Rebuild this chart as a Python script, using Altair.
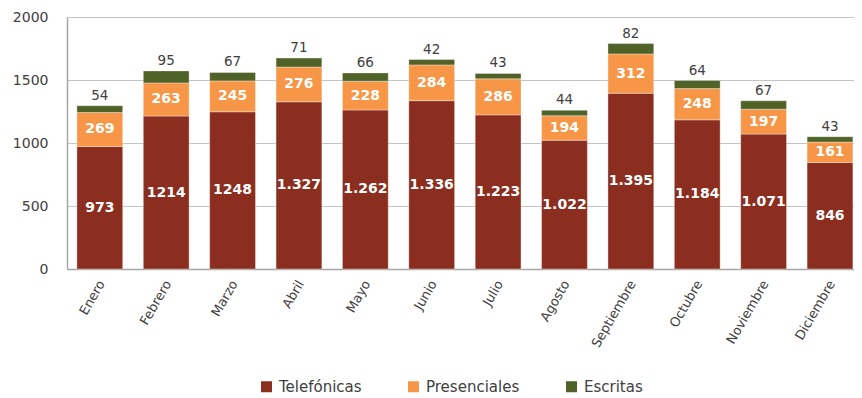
import altair as alt
import pandas as pd

months = ["Enero", "Febrero", "Marzo", "Abril", "Mayo", "Junio", "Julio",
          "Agosto", "Septiembre", "Octubre", "Noviembre", "Diciembre"]
telefonicas = [973, 1214, 1248, 1327, 1262, 1336, 1223, 1022, 1395, 1184, 1071, 846]
telefonicas_labels = ["973", "1214", "1248", "1.327", "1.262", "1.336", "1.223",
                      "1.022", "1.395", "1.184", "1.071", "846"]
presenciales = [269, 263, 245, 276, 228, 284, 286, 194, 312, 248, 197, 161]
escritas = [54, 95, 67, 71, 66, 42, 43, 44, 82, 64, 67, 43]
series = ["Telefónicas", "Presenciales", "Escritas"]
colors = ["#8B2E1F", "#F79646", "#4F6228"]
y_ticks = [0, 500, 1000, 1500, 2000]

rows = []
for i, m in enumerate(months):
    rows.append(dict(mes=m, serie=series[0], valor=telefonicas[i], etiqueta=telefonicas_labels[i], orden=0))
    rows.append(dict(mes=m, serie=series[1], valor=presenciales[i], etiqueta=str(presenciales[i]), orden=1))
    rows.append(dict(mes=m, serie=series[2], valor=escritas[i], etiqueta=str(escritas[i]), orden=2))
df = pd.DataFrame(rows)

FONT = "DejaVu Sans"

x = alt.X("mes:N", sort=months,
          scale=alt.Scale(paddingInner=0.31, paddingOuter=0.083, align=0.9),
          axis=alt.Axis(title=None, labelAngle=-60, labelAlign="right", labelBaseline="middle",
                        labelPadding=12, labelOffset=2, labelFontSize=13, labelColor="#404040",
                        labelFont=FONT, ticks=False, domainColor="#A6A6A6", domainWidth=1.5,
                        grid=False))
yscale = alt.Scale(domain=[0, 2000], nice=False)

base = alt.Chart(df).transform_stack(
    stack="valor", as_=["y0", "y1"], groupby=["mes"], sort=[alt.SortField("orden")]
).transform_calculate(mid="(datum.y0 + datum.y1) / 2")

bars = base.mark_bar(stroke="#ffffff", strokeOpacity=0.35, strokeWidth=1).encode(
    x=x,
    y=alt.Y("y0:Q", scale=yscale,
            axis=alt.Axis(title=None, values=y_ticks, format="d", ticks=False, labelPadding=19,
                          labelFontSize=14, labelColor="#404040", labelFont=FONT,
                          gridColor="#C4C4C4", gridWidth=1, domainColor="#A6A6A6", domainWidth=1.5)),
    y2="y1:Q",
    color=alt.Color("serie:N", scale=alt.Scale(domain=series, range=colors),
                    legend=alt.Legend(title=None, orient="none", direction="horizontal",
                                      legendX=192, legendY=362, symbolType="square",
                                      symbolSize=121, symbolStrokeWidth=0, labelFontSize=15,
                                      labelFont=FONT, labelColor="#404040", labelOffset=5,
                                      columnPadding=44)),
)

inner = base.transform_filter("datum.orden < 2").mark_text(
    color="white", fontWeight="bold", fontSize=14, font=FONT, baseline="middle"
).encode(x=x, y=alt.Y("mid:Q", scale=yscale), text="etiqueta:N")

top = base.transform_filter("datum.orden == 2").mark_text(
    color="#404040", fontSize=13.5, font=FONT, baseline="middle", dy=-10
).encode(x=x, y=alt.Y("y1:Q", scale=yscale), text="etiqueta:N")

chart = alt.layer(bars, inner, top).properties(
    width=787, height=252,
    autosize=alt.AutoSizeParams(type="none"),
    padding={"left": 59, "top": 9, "right": 0, "bottom": 135},
).configure_view(stroke=None)

chart.save("out.html", embed_options={"renderer": "svg", "actions": False})
